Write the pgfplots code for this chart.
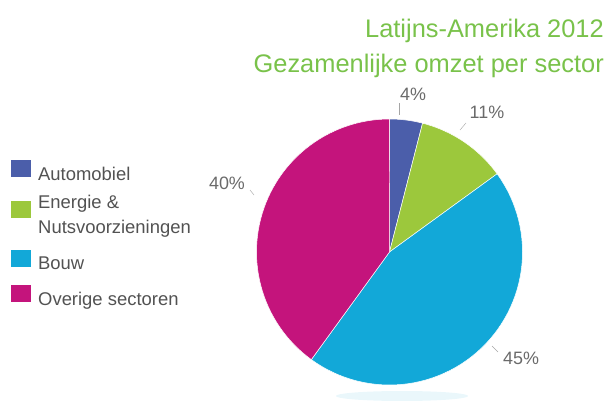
\documentclass[border=0pt]{standalone}
\usepackage{pgfplots}
\pgfplotsset{compat=1.18}
\usepackage{fontspec}
\setmainfont{Liberation Sans}
\definecolor{cauto}{HTML}{4B5EAA}
\definecolor{cenergie}{HTML}{9CC83C}
\definecolor{cbouw}{HTML}{12A8D8}
\definecolor{cover}{HTML}{C4147C}
\definecolor{titlegreen}{HTML}{79C24A}
\definecolor{textgray}{HTML}{525252}
\definecolor{labelgray}{HTML}{6A6A6A}
\begin{document}
\begin{tikzpicture}
\begin{axis}[
  width=611bp, height=410bp, scale only axis,
  xmin=0, xmax=611, ymin=0, ymax=410,
  hide axis, clip=false,
  legend cell align=left,
  legend style={at={(axis cs:10,251)}, anchor=north west, draw=none, fill=none,
    font=\fontsize{18.5}{21}\selectfont, text=textgray,
    row sep=13.5bp, inner sep=0pt,
    nodes={inner sep=0pt, align=left},
    /tikz/every odd column/.append style={column sep=6.5bp}},
  legend image code/.code={\fill[#1] (0bp,-3bp) rectangle (21bp,15bp);},
]
\path[draw=none] (axis cs:0,0) rectangle (axis cs:611,410);
% faint reflection under the pie
\addplot[fill=cbouw, fill opacity=0.09, draw=none, domain=0:360, samples=60, variable=\t, forget plot]
  ({402+66*cos(\t)}, {14+5*sin(\t)});
% pie slices: Automobiel 4, Energie 11, Bouw 45, Overige 40 (percent), clockwise from top
\addplot[fill=cauto, draw=white, line width=0.5pt, domain=0:4*3.6, samples=10, variable=\t]
  ({389.5+133*sin(\t)}, {158+133*cos(\t)}) -- (axis cs:389.5,158) -- cycle;
\addlegendentry{Automobiel}
\addplot[fill=cenergie, draw=white, line width=0.5pt, domain=4*3.6:15*3.6, samples=20, variable=\t]
  ({389.5+133*sin(\t)}, {158+133*cos(\t)}) -- (axis cs:389.5,158) -- cycle;
\addlegendentry{Energie \&\\[4bp]Nutsvoorzieningen\rule[-11bp]{0pt}{1pt}}
\addplot[fill=cbouw, draw=white, line width=0.5pt, domain=15*3.6:60*3.6, samples=60, variable=\t]
  ({389.5+133*sin(\t)}, {158+133*cos(\t)}) -- (axis cs:389.5,158) -- cycle;
\addlegendentry{Bouw}
\addplot[fill=cover, draw=white, line width=0.5pt, domain=60*3.6:100*3.6, samples=60, variable=\t]
  ({389.5+133*sin(\t)}, {158+133*cos(\t)}) -- (axis cs:389.5,158) -- cycle;
\addlegendentry{Overige sectoren}
% leader lines
\addplot[labelgray!60, line width=0.4pt, forget plot] coordinates {(399,295) (399,307)};
\addplot[labelgray!60, line width=0.4pt, forget plot] coordinates {(460,280) (466,287)};
\addplot[labelgray!60, line width=0.4pt, forget plot] coordinates {(250,220) (254,215)};
\addplot[labelgray!60, line width=0.4pt, forget plot] coordinates {(492,64) (498,58)};
% labels
\node[anchor=base, text=labelgray, font=\fontsize{18}{21}\selectfont] at (axis cs:413,310) {4\%};
\node[anchor=base, text=labelgray, font=\fontsize{18}{21}\selectfont] at (axis cs:487,292) {11\%};
\node[anchor=base, text=labelgray, font=\fontsize{18}{21}\selectfont] at (axis cs:227,221) {40\%};
\node[anchor=base, text=labelgray, font=\fontsize{18}{21}\selectfont] at (axis cs:521,46) {45\%};
% title
\node[anchor=base east, text=titlegreen, font=\fontsize{25.5}{30}\selectfont, inner sep=0pt] at (axis cs:604,373) {Latijns-Amerika 2012};
\node[anchor=base east, text=titlegreen, font=\fontsize{25.5}{30}\selectfont, inner sep=0pt] at (axis cs:604,338) {Gezamenlijke omzet per sector};
\end{axis}
\end{tikzpicture}
\end{document}
